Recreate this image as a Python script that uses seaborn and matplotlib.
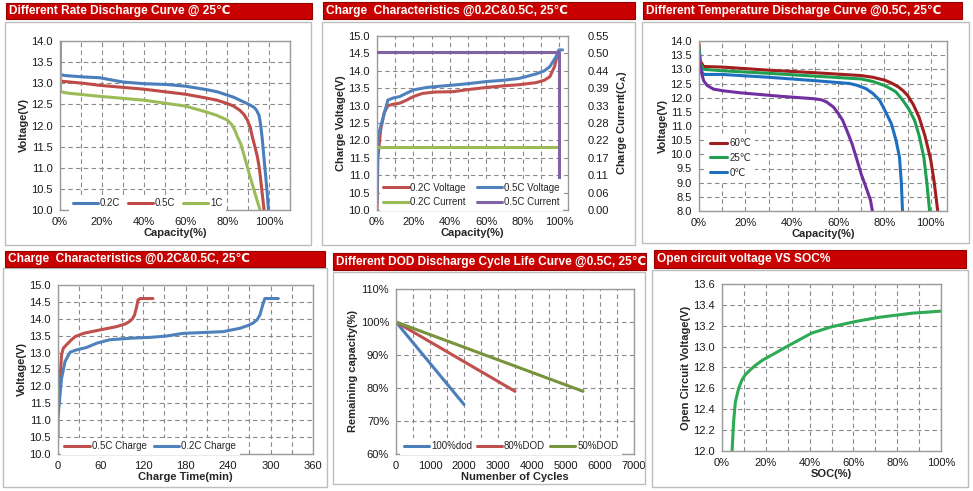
import matplotlib.pyplot as plt
import matplotlib.ticker as mticker
from matplotlib.patches import Rectangle
import seaborn as sns

# ---- panel 1: different rate discharge (capacity %, voltage V)
rate_cap_02 = [0, 0.3, 3, 11, 19, 25.5, 30, 40, 51, 60, 70, 75, 80, 83, 86, 89, 91, 92.8, 94, 95.2, 96,
               96.8, 97.6, 98.4, 99.1, 99.7]
rate_v_02 = [14.0, 13.2, 13.18, 13.15, 13.13, 13.07, 13.03, 12.99, 12.97, 12.93, 12.85, 12.8, 12.72, 12.67,
             12.6, 12.53, 12.48, 12.43, 12.36, 12.24, 12.0, 11.65, 11.2, 10.79, 10.4, 10.0]
rate_cap_05 = [0, 0.3, 11, 19, 40, 60, 70, 75, 80, 83, 86, 88, 89.6, 91, 92, 93.2, 94.4, 95.3, 96, 96.8, 97.6]
rate_v_05 = [14.0, 13.05, 13.0, 12.95, 12.86, 12.74, 12.65, 12.6, 12.52, 12.46, 12.36, 12.26, 12.13, 11.95,
             11.73, 11.5, 11.26, 11.0, 10.71, 10.35, 10.0]
rate_cap_1 = [0, 0.3, 3, 11, 19, 40, 60, 70, 75, 80, 82, 83.5, 85, 86.4, 88, 89.6, 91.2, 92.8, 94.3, 95.7]
rate_v_1 = [14.0, 12.8, 12.77, 12.73, 12.69, 12.6, 12.46, 12.32, 12.24, 12.13, 12.03, 11.9, 11.72, 11.57,
            11.3, 11.02, 10.74, 10.47, 10.22, 10.0]

# ---- panel 2: charge characteristics vs capacity
chg_cap_02v = [0, 0.5, 2, 4, 6, 9, 12.5, 16, 20, 25, 32, 42, 50, 60, 70, 78, 87.5, 92, 95, 97.6, 99.5]
chg_v_02v = [10.0, 11.5, 12.3, 12.8, 13.0, 13.04, 13.07, 13.15, 13.26, 13.35, 13.39, 13.4, 13.46, 13.52,
             13.57, 13.6, 13.66, 13.73, 13.83, 14.12, 14.55]
chg_cap_05v = [0, 0.3, 1, 3, 6, 9, 12.5, 16, 20, 27, 35, 42, 50, 60, 70, 78, 87.5, 92, 95, 98.5, 100, 102]
chg_v_05v = [10.2, 11.8, 12.2, 12.59, 13.16, 13.22, 13.26, 13.35, 13.45, 13.52, 13.56, 13.59, 13.63, 13.69,
             13.73, 13.78, 13.91, 14.0, 14.12, 14.41, 14.6, 14.6]
chg_cap_02c = [0, 99.5]
chg_i_02c = [0.2, 0.2]
chg_cap_05c = [0, 100, 100]
chg_i_05c = [0.5, 0.5, 0.02]
current_ticks = [0.0, 0.055, 0.11, 0.165, 0.22, 0.275, 0.33, 0.385, 0.44, 0.495, 0.55]
current_labels = ['0.00', '0.06', '0.11', '0.17', '0.22', '0.28', '0.33', '0.39', '0.44', '0.50', '0.55']

# ---- panel 3: different temperature discharge
temp_cap_60 = [0, 0.5, 2, 10, 30, 50, 70, 75, 80, 83, 86, 88, 90, 92.5, 95, 97.5, 100, 101.5, 103]
temp_v_60 = [13.9, 13.3, 13.1, 13.08, 12.97, 12.88, 12.78, 12.72, 12.62, 12.52, 12.38, 12.25, 12.08, 11.75,
             11.3, 10.65, 9.8, 9.0, 8.0]
temp_cap_25 = [0, 0.5, 2, 10, 30, 50, 70, 75, 80, 83, 85, 88, 90.5, 93, 95, 97, 98.3, 99.5]
temp_v_25 = [13.8, 13.2, 13.0, 12.95, 12.86, 12.76, 12.66, 12.57, 12.43, 12.3, 12.2, 11.9, 11.6, 11.2, 10.65,
             9.9, 9.0, 8.0]
temp_cap_0 = [0, 0.5, 2, 10, 30, 50, 65, 68, 72, 75, 78, 80.5, 83, 85, 86.5, 87.3, 87.8]
temp_v_0 = [13.6, 13.0, 12.82, 12.82, 12.72, 12.6, 12.5, 12.44, 12.32, 12.15, 11.9, 11.5, 11.08, 10.5, 9.9,
            9.0, 8.0]
temp_cap_low = [0, 1, 2, 3.5, 6.3, 10.7, 18, 35, 50, 53, 55, 58, 60, 62, 64, 66, 68, 70, 72, 74, 74.8]
temp_v_low = [13.5, 12.9, 12.6, 12.43, 12.3, 12.24, 12.17, 12.05, 11.96, 11.92, 11.85, 11.67, 11.45, 11.2,
              10.8, 10.38, 9.85, 9.3, 8.85, 8.38, 8.0]

# ---- panel 4: charge characteristics vs time (min)
time_05 = [0, 0, 3, 5, 7.5, 12, 18, 24, 36, 59, 83, 95, 101, 105, 108, 111, 113, 116, 134]
volt_05 = [10.5, 11.1, 12.24, 12.93, 13.13, 13.23, 13.36, 13.47, 13.57, 13.67, 13.77, 13.85, 13.92, 14.0,
           14.11, 14.35, 14.56, 14.6, 14.6]
time_02 = [0, 5, 10, 17, 26, 40, 55, 73, 106, 130, 153, 177, 200, 233, 257, 268, 275, 281, 285, 289, 292, 311]
volt_02 = [11.1, 12.24, 12.74, 13.01, 13.08, 13.15, 13.28, 13.38, 13.43, 13.45, 13.49, 13.57, 13.59, 13.62,
           13.72, 13.8, 13.87, 13.97, 14.11, 14.41, 14.6, 14.6]

# ---- panel 5: DOD cycle life
cycles_100 = [0, 2000]
cap_100 = [100, 75]
cycles_80 = [0, 3500]
cap_80 = [100, 79]
cycles_50 = [0, 5500]
cap_50 = [100, 79]

# ---- panel 6: OCV vs SOC
soc = [4.6, 5.3, 6.1, 7.6, 9.1, 10.6, 12.5, 15.2, 18.5, 22.8, 30.4, 41, 50, 60.8, 71.4, 86.6, 100]
ocv = [12.0, 12.28, 12.47, 12.6, 12.68, 12.73, 12.77, 12.82, 12.87, 12.92, 13.01, 13.13, 13.19, 13.24,
       13.28, 13.32, 13.34]

sns.set_style('white')
plt.rcParams['font.family'] = ['Liberation Sans', 'DejaVu Sans']
plt.rcParams['mathtext.fontset'] = 'custom'
plt.rcParams['mathtext.bf'] = 'Liberation Sans:bold'
plt.rcParams['mathtext.rm'] = 'Liberation Sans'

W, H = 973, 491
fig = plt.figure(figsize=(W / 100, H / 100), dpi=100)

GRID = dict(color='#8a8a8a', linestyle=(0, (4, 3)), linewidth=0.8)
TITLE_FONT = ['Liberation Sans', 'DejaVu Sans']
LW = 2.2
pct = mticker.FuncFormatter(lambda v, p: f'{v:.0f}%')


def add_axes(x0, y0, x1, y1):
    return fig.add_axes([x0 / W, 1 - y1 / H, (x1 - x0) / W, (y1 - y0) / H])


def box(x0, y0, x1, y1):
    fig.add_artist(Rectangle((x0 / W, 1 - y1 / H), (x1 - x0) / W, (y1 - y0) / H,
                             transform=fig.transFigure, fill=False, ec='#bdbdbd', lw=1))


def title_bar(x0, y0, x1, y1, text):
    r = Rectangle((x0 / W, 1 - y1 / H), (x1 - x0) / W, (y1 - y0) / H,
                  transform=fig.transFigure, fc='#c80000', ec='#950000', lw=0.8)
    fig.add_artist(r)
    t = fig.text((x0 + 3) / W, 1 - (y0 + y1) / 2 / H, text, color='white', fontsize=8.6,
                 fontweight='bold', family=TITLE_FONT, va='center', ha='left')
    t.set_clip_path(r)


def style(ax, xlim, xmajor, xminor, ylim, yticks, xfmt, yfmt):
    ax.set_xlim(*xlim)
    ax.set_ylim(*ylim)
    ax.set_xticks(xmajor)
    ax.set_xticks(xminor, minor=True)
    ax.set_yticks(yticks)
    ax.xaxis.set_major_formatter(xfmt)
    ax.yaxis.set_major_formatter(yfmt)
    ax.grid(True, which='both', **GRID)
    ax.tick_params(which='both', length=0, labelsize=8, pad=5, colors='#1a1a1a')
    for s in ax.spines.values():
        s.set_color('#9a9a9a')
        s.set_linewidth(1)


def labels(ax, xl, yl):
    ax.set_xlabel(xl, fontsize=8, fontweight='bold', labelpad=1)
    ax.set_ylabel(yl, fontsize=8, fontweight='bold', labelpad=2)


def legend(ax, handles, texts, bbox, ncol, loc='lower left', hl=2.6, mode='expand'):
    lg = ax.legend(handles, texts, loc=loc, bbox_to_anchor=bbox, ncol=ncol, mode=mode,
                   borderaxespad=0, frameon=True, facecolor='white', edgecolor='none',
                   framealpha=1, fancybox=False, fontsize=7, handlelength=hl,
                   handletextpad=0.2, columnspacing=0.6, borderpad=0.35, labelspacing=0.5)
    lg.set_zorder(6)
    return lg


def line(ax, x, y, color, label=None):
    sns.lineplot(x=x, y=y, ax=ax, color=color, lw=LW, label=label, sort=False, estimator=None)


f1 = mticker.FormatStrFormatter('%.1f')
fint = mticker.FormatStrFormatter('%d')

# frames and title bars
box(5, 22, 311, 245)
box(322, 22, 635, 245)
box(642, 22, 969, 243)
box(3, 268, 327, 487)
box(333, 272, 645, 484)
box(652, 270, 968, 487)
title_bar(6, 3, 312, 19, 'Different Rate Discharge Curve @ 25\u2103')
title_bar(323, 2, 635, 19, 'Charge  Characteristics @0.2C&0.5C, 25\u2103')
title_bar(643, 2, 962, 19, 'Different Temperature Discharge Curve @0.5C, 25\u2103')
title_bar(5, 251, 325, 267, 'Charge  Characteristics @0.2C&0.5C, 25\u2103')
title_bar(333, 253, 646, 270, 'Different DOD Discharge Cycle Life Curve @0.5C, 25\u2103')
title_bar(654, 250, 966, 268, 'Open circuit voltage VS SOC%')

# panel 1
ax = add_axes(60, 41, 290, 210)
line(ax, rate_cap_02, rate_v_02, '#4a7ebb', '0.2C')
line(ax, rate_cap_05, rate_v_05, '#be4b48', '0.5C')
line(ax, rate_cap_1, rate_v_1, '#9bbb59', '1C')
style(ax, (0, 110), range(0, 101, 20), range(10, 111, 20), (10, 14),
      [10 + 0.5 * i for i in range(9)], pct, f1)
labels(ax, 'Capacity(%)', 'Voltage(V)')
h, t = ax.get_legend_handles_labels()
legend(ax, h, t, (0.04, -0.01, 0.68, 0.1), 3)

# panel 2
ax = add_axes(377, 36, 568, 210)
ax2 = ax.twinx()
line(ax, chg_cap_02v, chg_v_02v, '#c0504d', '0.2C Voltage')
line(ax, chg_cap_05v, chg_v_05v, '#4f81bd', '0.5C Voltage')
line(ax2, chg_cap_02c, chg_i_02c, '#9bbb59', '0.2C Current')
line(ax2, chg_cap_05c, chg_i_05c, '#8064a2', '0.5C Current')
style(ax, (0, 105), range(0, 101, 20), range(10, 101, 20), (10, 15),
      [10 + 0.5 * i for i in range(11)], pct, f1)
labels(ax, 'Capacity(%)', 'Charge Voltage(V)')
ax2.set_ylim(0, 0.55)
ax2.set_yticks(current_ticks)
ax2.set_yticklabels(current_labels)
ax2.tick_params(length=0, labelsize=8, pad=14, colors='#1a1a1a')
ax2.set_ylabel('Charge Current(C$_\\mathbf{A}$)', fontsize=8, fontweight='bold', labelpad=4)
for s in ax2.spines.values():
    s.set_visible(False)
if ax.get_legend():
    ax.get_legend().remove()
h1, t1 = ax.get_legend_handles_labels()
h2, t2 = ax2.get_legend_handles_labels()
legend(ax2, [h1[0], h2[0], h1[1], h2[1]], [t1[0], t2[0], t1[1], t2[1]], (0.015, -0.005, 0.96, 0.16), 2)

# panel 3
ax = add_axes(699, 41, 947, 211)
line(ax, temp_cap_60, temp_v_60, '#a01e1e', '60\u2103')
line(ax, temp_cap_25, temp_v_25, '#1fa050', '25\u2103')
line(ax, temp_cap_0, temp_v_0, '#1f6fc0', '0\u2103')
line(ax, temp_cap_low, temp_v_low, '#7030a0')
style(ax, (0, 107), range(0, 101, 20), range(10, 101, 20), (8, 14),
      [8 + 0.5 * i for i in range(13)], pct, f1)
labels(ax, 'Capacity(%)', 'Voltage(V)')
h, t = ax.get_legend_handles_labels()
legend(ax, h, t, (0.03, 0.45), 1, loc='upper left', hl=1.8, mode=None)

# panel 4
ax = add_axes(58, 285, 313, 454)
line(ax, time_05, volt_05, '#c0504d', '0.5C Charge')
line(ax, time_02, volt_02, '#4f81bd', '0.2C Charge')
style(ax, (0, 360), range(0, 361, 60), range(30, 361, 60), (10, 15),
      [10 + 0.5 * i for i in range(11)], fint, f1)
labels(ax, 'Charge Time(min)', 'Voltage(V)')
h, t = ax.get_legend_handles_labels()
legend(ax, h, t, (0.012, -0.005, 0.7, 0.09), 2)

# panel 5
ax = add_axes(396, 289, 634, 454)
line(ax, cycles_100, cap_100, '#4a7ebb', '100%dod')
line(ax, cycles_80, cap_80, '#c0504d', '80%DOD')
line(ax, cycles_50, cap_50, '#77933c', '50%DOD')
style(ax, (0, 7000), range(0, 7001, 1000), range(500, 7001, 1000), (60, 110),
      range(60, 111, 10), fint, pct)
labels(ax, 'Numenber of Cycles', 'Remaining capacity(%)')
h, t = ax.get_legend_handles_labels()
legend(ax, h, t, (0.018, -0.005, 0.93, 0.09), 3)

# panel 6
ax = add_axes(722, 284, 941, 451)
line(ax, soc, ocv, '#2eaa55')
style(ax, (0, 100), range(0, 101, 20), range(10, 101, 20), (12, 13.6),
      [12 + 0.2 * i for i in range(9)], pct, f1)
labels(ax, 'SOC(%)', 'Open Circuit Voltage(V)')

fig.savefig('out.png', dpi=100)
